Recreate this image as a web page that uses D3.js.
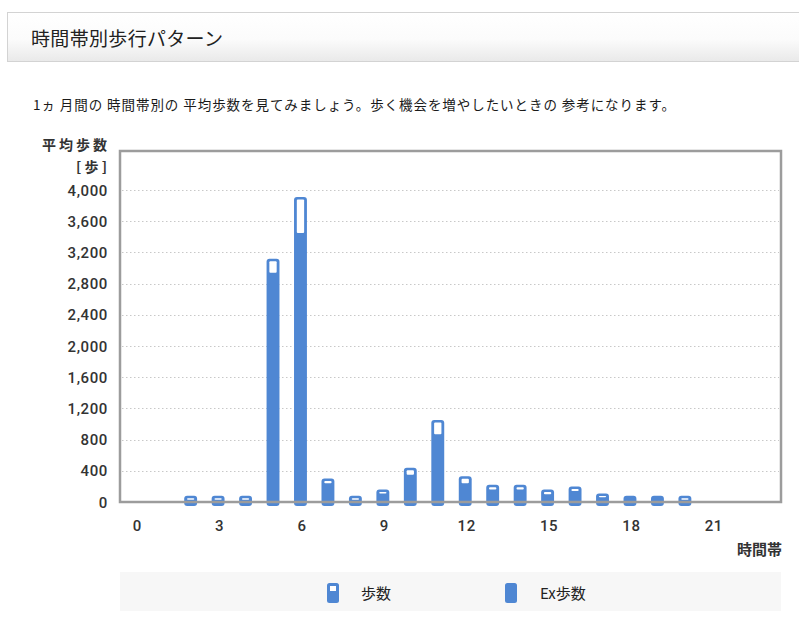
<!DOCTYPE html>
<html>
<head>
<meta charset="utf-8">
<script src="https://cdn.jsdelivr.net/npm/d3@7"></script>
<style>
  body { margin: 0; background: #fff; }
  text { font-family: "Noto Sans CJK JP", "Noto Sans", sans-serif; }
</style>
</head>
<body>
<div id="chart"></div>
<script>
// data
const hours = [0,1,2,3,4,5,6,7,8,9,10,11,12,13,14,15,16,17,18,19,20,21,22,23];
const steps   = [0,0,80,80,80,3120,3910,300,80,160,440,1050,330,220,220,160,200,110,80,80,80,0,0,0];
const exSteps = [0,0,30,30,30,2940,3450,240,30,110,350,870,240,160,160,100,140,60,80,80,30,0,0,0];
const yTicks = [0,400,800,1200,1600,2000,2400,2800,3200,3600,4000];
const xTicks = [0,3,6,9,12,15,18,21];

const W = 799, H = 625;
const blue = "#4f87d3";
const plot = {left: 120, right: 781, top: 151, bottom: 502};

const svg = d3.select("#chart")
  .append("svg")
    .attr("width", W)
    .attr("height", H);

// header box with soft gradient
const grad = svg.append("defs").append("linearGradient")
  .attr("id", "hdr").attr("x1", 0).attr("y1", 0).attr("x2", 0).attr("y2", 1);
grad.append("stop").attr("offset", "0%").attr("stop-color", "#ffffff");
grad.append("stop").attr("offset", "55%").attr("stop-color", "#fbfbfb");
grad.append("stop").attr("offset", "100%").attr("stop-color", "#e9e9e9");

svg.append("rect")
  .attr("x", 7.5).attr("y", 12.5)
  .attr("width", 800).attr("height", 49)
  .attr("fill", "url(#hdr)")
  .attr("stroke", "#d3d3d3");

svg.append("text")
  .attr("x", 31).attr("y", 46)
  .attr("textLength", 192)
  .attr("lengthAdjust", "spacing")
  .text("時間帯別歩行パターン")
  .style("font-size", "19px")
  .style("fill", "#222");

svg.append("text")
  .attr("x", 33).attr("y", 110)
  .attr("textLength", 642)
  .attr("lengthAdjust", "spacing")
  .text("1ヵ 月間の 時間帯別の 平均歩数を見てみましょう。歩く機会を増やしたいときの 参考になります。")
  .style("font-size", "13.5px")
  .style("fill", "#1a1a1a");

// scales
const x = d3.scaleBand()
  .domain(hours)
  .range([plot.left + 2, plot.right])
  .paddingInner(0.53)
  .paddingOuter(0.265);

const y = d3.scaleLinear()
  .domain([0, 4500])
  .range([plot.bottom, plot.top]);

// dotted grid lines
svg.append("g")
  .selectAll("line")
  .data(yTicks.filter(d => d > 0))
  .join("line")
    .attr("x1", plot.left + 2)
    .attr("x2", plot.right - 2)
    .attr("y1", d => Math.round(y(d)) + 0.5)
    .attr("y2", d => Math.round(y(d)) + 0.5)
    .attr("stroke", "#c8c8c8")
    .attr("stroke-dasharray", "1.5,2.5");

// y axis labels
svg.append("g")
  .selectAll("text")
  .data(yTicks)
  .join("text")
    .attr("x", 108)
    .attr("y", d => y(d) + 5.5)
    .attr("text-anchor", "end")
    .text(d => d3.format(",")(d))
    .style("font-family", "Roboto, sans-serif")
    .style("font-weight", "500")
    .style("font-size", "15px")
    .style("letter-spacing", "0.6px")
    .style("fill", "#333");

svg.append("text")
  .attr("x", 107).attr("y", 150)
  .attr("text-anchor", "end")
  .attr("textLength", 65)
  .attr("lengthAdjust", "spacing")
  .text("平均歩数")
  .style("font-size", "14px")
  .style("font-weight", "bold")
  .style("fill", "#333");
svg.append("text")
  .attr("x", 107).attr("y", 172)
  .attr("text-anchor", "end")
  .text("[ 歩 ]")
  .style("font-size", "14px")
  .style("font-weight", "bold")
  .style("fill", "#333");

// bars: outer = 歩数, filled part = Ex歩数
const bars = svg.append("g")
  .selectAll("g")
  .data(hours.filter(h => steps[h] > 0))
  .join("g");

bars.append("rect")
  .attr("x", h => x(h))
  .attr("y", h => y(steps[h]))
  .attr("width", x.bandwidth())
  .attr("height", h => y(0) - y(steps[h]) + 4)
  .attr("rx", 3)
  .attr("fill", blue);

bars.filter(h => y(exSteps[h]) - y(steps[h]) - 2.5 > 0)
  .append("rect")
  .attr("x", h => x(h) + 2.8)
  .attr("y", h => y(steps[h]) + 2.5)
  .attr("width", x.bandwidth() - 5.6)
  .attr("height", h => y(exSteps[h]) - y(steps[h]) - 2.5)
  .attr("rx", 1)
  .attr("fill", "#fff");

// frame
svg.append("rect")
  .attr("x", plot.left).attr("y", plot.top)
  .attr("width", plot.right - plot.left)
  .attr("height", plot.bottom - plot.top)
  .attr("fill", "none")
  .attr("stroke", "#9c9c9c")
  .attr("stroke-width", 2.5);

// x axis labels
svg.append("g")
  .selectAll("text")
  .data(xTicks)
  .join("text")
    .attr("x", d => x(d) + x.bandwidth() / 2 + 1.5)
    .attr("y", 531)
    .attr("text-anchor", "middle")
    .text(d => d)
    .style("font-family", "Roboto, sans-serif")
    .style("font-weight", "500")
    .style("font-size", "15px")
    .style("letter-spacing", "0.6px")
    .style("fill", "#333");

svg.append("text")
  .attr("x", 782).attr("y", 555)
  .attr("text-anchor", "end")
  .text("時間帯")
  .style("font-size", "15px")
  .style("font-weight", "bold")
  .style("fill", "#333");

// legend
svg.append("rect")
  .attr("x", 120).attr("y", 572)
  .attr("width", 661).attr("height", 39)
  .attr("fill", "#f7f7f7");

const legend = [
  {label: "歩数", x: 327, tx: 361, hollow: true},
  {label: "Ex歩数", x: 505, tx: 540, hollow: false}
];
const lg = svg.append("g")
  .selectAll("g")
  .data(legend)
  .join("g");
lg.append("rect")
  .attr("x", d => d.x).attr("y", 583)
  .attr("width", 12).attr("height", 20)
  .attr("rx", 2.5)
  .attr("fill", blue);
lg.filter(d => d.hollow)
  .append("rect")
  .attr("x", d => d.x + 3).attr("y", 586)
  .attr("width", 6).attr("height", 5)
  .attr("fill", "#fff");
lg.append("text")
  .attr("x", d => d.tx).attr("y", 599)
  .text(d => d.label)
  .style("font-size", "15px")
  .style("fill", "#222");
</script>
</body>
</html>
